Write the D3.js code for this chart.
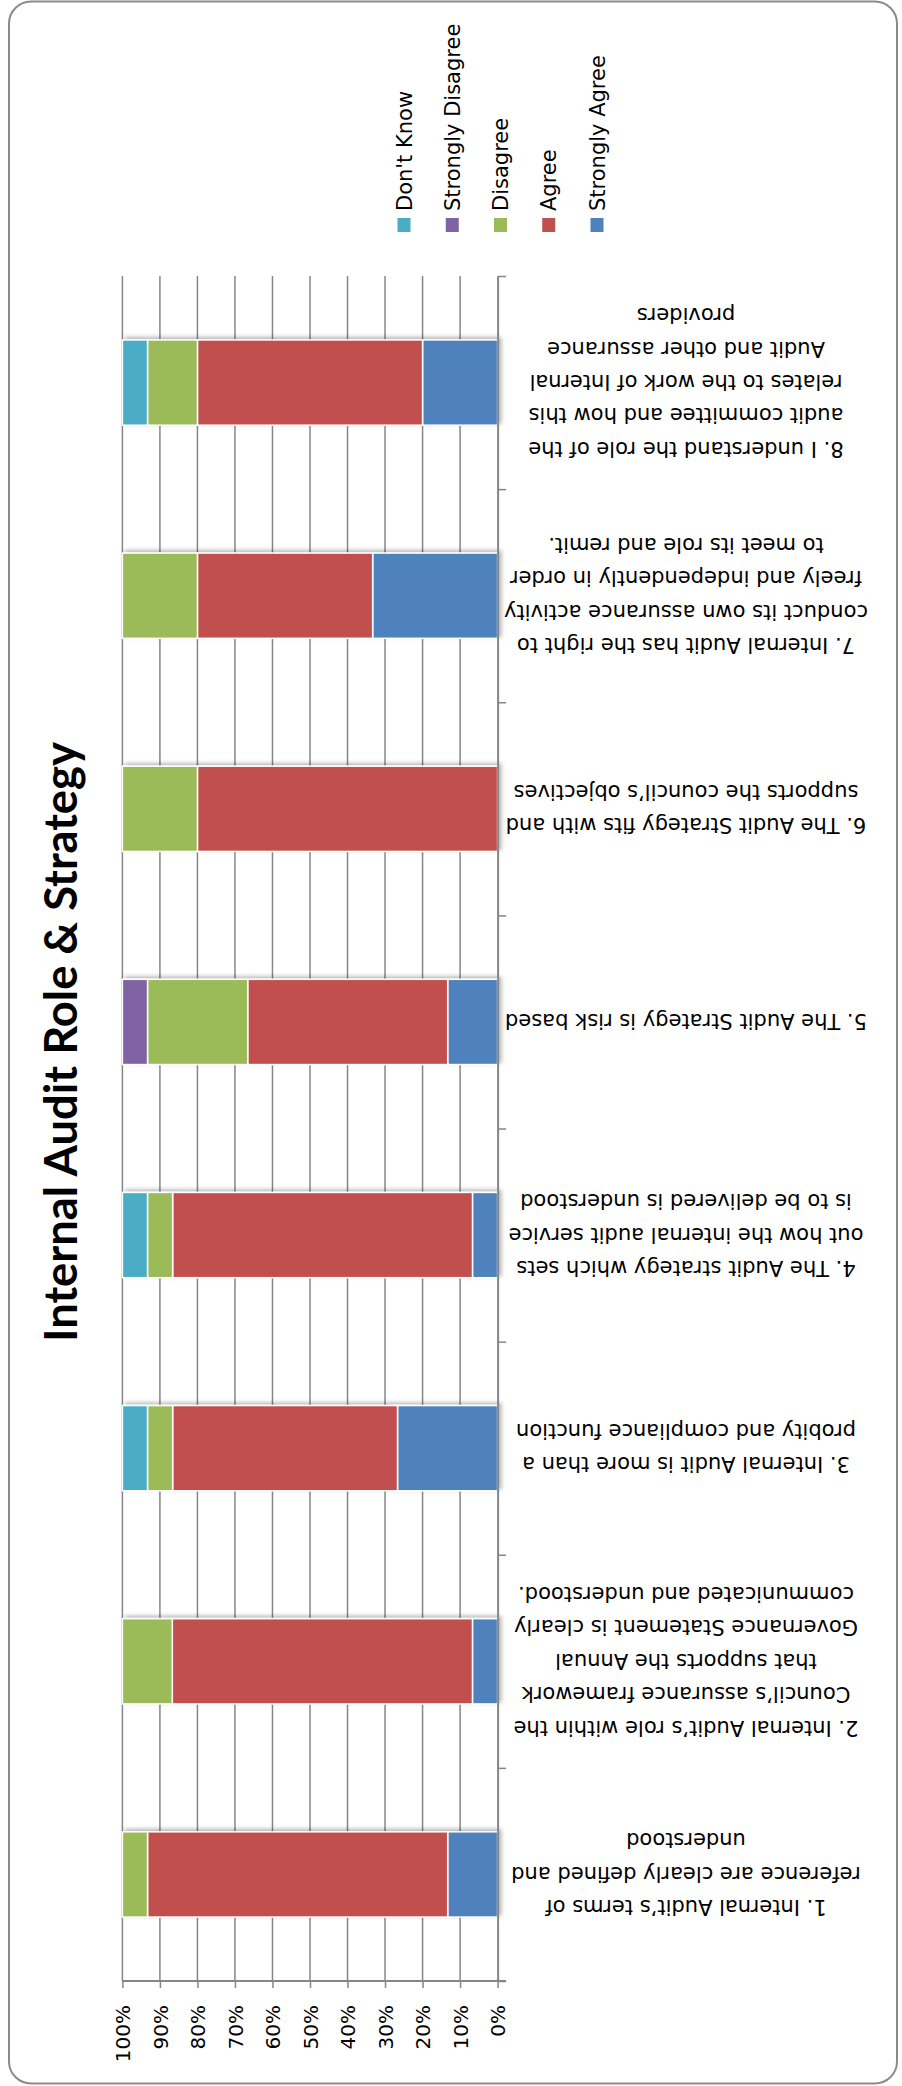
<!DOCTYPE html>
<html>
<head>
<meta charset="utf-8">
<script src="https://cdn.jsdelivr.net/npm/d3@7"></script>
<style>
  html, body { margin: 0; padding: 0; background: #fff; }
  svg { display: block; }
  text { fill: #000; }
</style>
</head>
<body>
<svg id="chart" width="902" height="2086"></svg>
<script>
// Survey: Internal Audit Role & Strategy (share of responses per statement)
const categories = ["1", "2", "3", "4", "5", "6", "7", "8"];

const categoryLabels = [
  ["1. Internal Audit’s terms of", "reference are clearly defined and", "understood"],
  ["2. Internal Audit’s role within the", "Council’s assurance framework", "that supports the Annual", "Governance Statement is clearly", "communicated and understood."],
  ["3. Internal Audit is more than a", "probity and compliance function"],
  ["4. The Audit strategy which sets", "out how the internal audit service", "is to be delivered is understood"],
  ["5. The Audit Strategy is risk based"],
  ["6. The Audit Strategy fits with and", "supports the council’s objectives"],
  ["7. Internal Audit has the right to", "conduct its own assurance activity", "freely and independently in order", "to meet its role and remit."],
  ["8. I understand the role of the", "audit committee and how this", "relates to the work of Internal", "Audit and other assurance", "providers"]
];

// Percent of respondents per answer, statements 1..8
const stronglyAgree    = [13.3, 6.7, 26.7, 6.7, 13.3, 0.0, 33.3, 20.0];
const agree            = [80.0, 80.0, 60.0, 80.0, 53.3, 80.0, 46.7, 60.0];
const disagree         = [6.7, 13.3, 6.7, 6.7, 26.7, 20.0, 20.0, 13.3];
const stronglyDisagree = [0.0, 0.0, 0.0, 0.0, 6.7, 0.0, 0.0, 0.0];
const dontKnow         = [0.0, 0.0, 6.7, 6.7, 0.0, 0.0, 0.0, 6.7];

const seriesNames = ["Strongly Agree", "Agree", "Disagree", "Strongly Disagree", "Don't Know"];
const seriesColors = ["#4F81BD", "#C0504D", "#9BBB59", "#8064A2", "#4BACC6"];
const legendOrder = ["Don't Know", "Strongly Disagree", "Disagree", "Agree", "Strongly Agree"];

const tickValues = [0, 0.1, 0.2, 0.3, 0.4, 0.5, 0.6, 0.7, 0.8, 0.9, 1.0];

const seriesValues = [stronglyAgree, agree, disagree, stronglyDisagree, dontKnow];
const rows = categories.map((c, i) => {
  const r = { category: c };
  seriesNames.forEach((s, k) => { r[s] = seriesValues[k][i]; });
  return r;
});

const svg = d3.select("#chart");
const font = "'DejaVu Sans', Verdana, sans-serif";

// Layout (the chart is laid out rotated: value axis runs right-to-left along the bottom)
const plot = { left: 122.4, right: 497.6, top: 276, bottom: 1981 };

const x = d3.scaleLinear().domain([0, 1]).range([plot.right, plot.left]);
const y = d3.scaleBand()
  .domain(categories.slice().reverse())
  .range([plot.top, plot.bottom])
  .paddingInner(0.6)
  .paddingOuter(0.3);

const stack = d3.stack().keys(seriesNames).offset(d3.stackOffsetExpand);
const stacked = stack(rows);

const color = d3.scaleOrdinal().domain(seriesNames).range(seriesColors);

// Outer frame
svg.append("rect")
  .attr("x", 9).attr("y", 1.5)
  .attr("width", 888).attr("height", 2082)
  .attr("rx", 22).attr("ry", 22)
  .attr("fill", "#fff")
  .attr("stroke", "#8a8a8a")
  .attr("stroke-width", 2);

const defs = svg.append("defs");
const f = defs.append("filter").attr("id", "barShadow")
  .attr("x", "-10%").attr("y", "-20%").attr("width", "130%").attr("height", "140%");
f.append("feDropShadow")
  .attr("dx", 3).attr("dy", -2)
  .attr("stdDeviation", 2)
  .attr("flood-color", "#000")
  .attr("flood-opacity", 0.3);

// Gridlines
svg.append("g").selectAll("line")
  .data(tickValues.filter(d => d > 0))
  .join("line")
  .attr("x1", d => x(d)).attr("x2", d => x(d))
  .attr("y1", plot.top).attr("y2", plot.bottom)
  .attr("stroke", "#868686")
  .attr("stroke-width", 1.5);

// Bars: one group per statement so the shadow falls behind the whole stack
const barGroups = svg.append("g").selectAll("g")
  .data(categories)
  .join("g")
  .attr("filter", "url(#barShadow)");

barGroups.selectAll("rect")
  .data(c => stacked.map(s => ({ key: s.key, seg: s.find(p => p.data.category === c) })))
  .join("rect")
  .attr("x", d => x(d.seg[1]))
  .attr("y", d => y(d.seg.data.category))
  .attr("width", d => x(d.seg[0]) - x(d.seg[1]))
  .attr("height", y.bandwidth())
  .attr("fill", d => color(d.key))
  .attr("stroke", d => (d.seg[1] - d.seg[0]) > 0 ? "#fff" : "none")
  .attr("stroke-width", 1.5);

// Value axis along the bottom
const xAxis = svg.append("g")
  .attr("transform", `translate(0,${plot.bottom})`)
  .call(d3.axisBottom(x).tickValues(tickValues).tickFormat(d3.format(".0%")).tickSize(7).tickSizeOuter(0));
xAxis.select(".domain").remove();
xAxis.selectAll(".tick line").attr("stroke", "#868686").attr("stroke-width", 1.5);
xAxis.selectAll(".tick text")
  .attr("transform", "rotate(-90)")
  .attr("x", -24).attr("y", 0).attr("dy", "0.36em")
  .attr("text-anchor", "end")
  .style("font-family", font)
  .style("font-size", "20px")
  .attr("fill", "#000");
svg.append("line")
  .attr("x1", plot.left).attr("x2", plot.right + 8.5)
  .attr("y1", plot.bottom).attr("y2", plot.bottom)
  .attr("stroke", "#868686").attr("stroke-width", 2);

// Category axis on the right with ticks between statements
const yEdge = d3.scaleLinear().domain([0, categories.length]).range([plot.bottom, plot.top]);
const yAxis = svg.append("g")
  .attr("transform", `translate(${plot.right},0)`)
  .call(d3.axisRight(yEdge).tickValues(d3.range(0, categories.length + 1)).tickFormat("").tickSize(8.5).tickSizeOuter(0));
yAxis.select(".domain").attr("stroke", "#868686").attr("stroke-width", 2);
yAxis.selectAll(".tick line").attr("stroke", "#868686").attr("stroke-width", 1.5);

// Statement labels (upside down, centred on each bar)
const labelX = 686;
const lineH = 33.4;
const lbl = svg.append("g").selectAll("text")
  .data(categories)
  .join("text")
  .attr("transform", c => `translate(${labelX},${y(c) + y.bandwidth() / 2}) rotate(180)`)
  .attr("text-anchor", "middle")
  .style("font-family", font)
  .style("font-size", "21px");
lbl.each(function (c, i) {
  const lines = categoryLabels[i];
  const t = d3.select(this);
  lines.forEach((ln, k) => {
    t.append("tspan")
      .attr("x", 0)
      .attr("y", (k - (lines.length - 1) / 2) * lineH)
      .attr("dy", "0.36em")
      .text(ln);
  });
});

// Legend across the top, entries reading upward
const legendX = d3.scalePoint().domain(legendOrder).range([404, 597]);
const leg = svg.append("g").selectAll("g")
  .data(legendOrder)
  .join("g")
  .attr("transform", d => `translate(${legendX(d)},0)`);
leg.append("rect")
  .attr("x", -6.5).attr("y", 218)
  .attr("width", 13).attr("height", 14)
  .attr("fill", d => color(d));
leg.append("text")
  .attr("transform", "translate(0,211) rotate(-90)")
  .attr("dy", "0.36em")
  .attr("text-anchor", "start")
  .style("font-family", font)
  .style("font-size", "21px")
  .text(d => d);

// Title
const title = svg.append("text")
  .attr("transform", "translate(61,1042) rotate(-90)")
  .attr("text-anchor", "middle")
  .attr("dy", "0.35em")
  .style("font-family", "Lato, 'Open Sans', sans-serif")
  .style("font-weight", "bold")
  .style("font-size", "40px")
  .text("Internal Audit Role & Strategy");
const len = title.node().getComputedTextLength();
title.style("font-size", (40 * 600 / len).toFixed(2) + "px");
</script>
</body>
</html>
